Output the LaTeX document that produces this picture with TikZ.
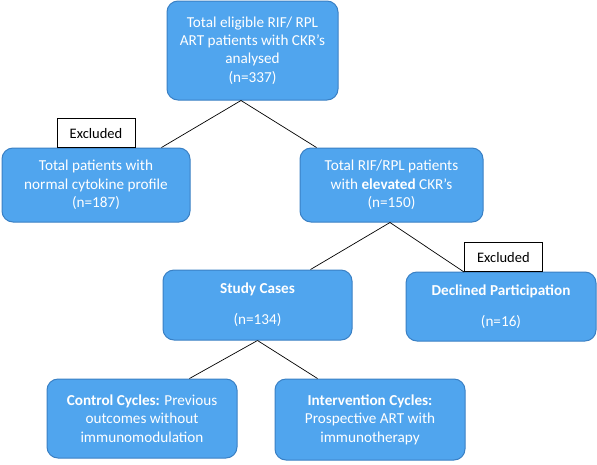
\documentclass[tikz,border=0pt]{standalone}
\usepackage{fontspec}
\setmainfont{Carlito}
\usepackage{tikz}
\usetikzlibrary{positioning,calc}

\definecolor{boxfill}{RGB}{80,165,238}
\definecolor{boxline}{RGB}{58,128,196}

\begin{document}
\begin{tikzpicture}[
  x=1pt, y=-1pt,
  box/.style={draw=boxline, line width=1pt, fill=boxfill, rounded corners=11pt, align=center,
    text=white, inner sep=0pt, font=\fontsize{15.2}{18.4}\selectfont},
  exclbox/.style={draw, line width=0.8pt, fill=white, minimum width=78pt, minimum height=29pt,
    inner sep=0pt, font=\fontsize{14.5}{17}\selectfont},
  link/.style={line width=0.7pt}
]
\useasboundingbox (0,0) rectangle (597,464);

\node[box, minimum width=171pt, minimum height=99pt] (total) at (252.5,50.5)
  {Total eligible RIF/ RPL\\ART patients with CKR’s\\analysed\\(n=337)};
\node[box, minimum width=188pt, minimum height=74pt] (normal) at (96,185)
  {Total patients with\\normal cytokine profile\\(n=187)};
\node[box, minimum width=183pt, minimum height=74pt] (elevated) at (391.5,185)
  {Total RIF/RPL patients\\with \textbf{elevated} CKR’s\\(n=150)};
\node[box, minimum width=189pt, minimum height=70pt] (study) at (257.5,305)
  {\textbf{Study Cases}\\[13pt](n=134)};
\node[box, minimum width=190pt, minimum height=69pt] (declined) at (501,306.5)
  {\textbf{Declined Participation}\\[13pt](n=16)};
\node[box, minimum width=190pt, minimum height=79pt] (control) at (142,418.5)
  {\textbf{Control Cycles:} Previous\\outcomes without\\immunomodulation};
\node[box, minimum width=190pt, minimum height=81pt] (intervention) at (370,419.5)
  {\textbf{Intervention Cycles:}\\Prospective ART with\\immunotherapy};

\node[exclbox, anchor=south] (excl1) at (96,148) {Excluded};
\node[exclbox, anchor=south west] (excl2) at (464,272) {Excluded};

% tree links
\draw[link] ([xshift=-11.5pt]total.south) -- ([xshift=-29pt]normal.north east);
\draw[link] ([xshift=-11.5pt]total.south) -- ([xshift=17pt]elevated.north west);
\draw[link] ([xshift=-1.5pt]elevated.south) -- ([xshift=-42pt]study.north east);
\draw[link] ([xshift=-1.5pt]elevated.south) -- (excl2.south west);
\draw[link] (study.south) -- ([xshift=-48pt]control.north east);
\draw[link] (study.south) -- ([xshift=43pt]intervention.north west);
\end{tikzpicture}
\end{document}
